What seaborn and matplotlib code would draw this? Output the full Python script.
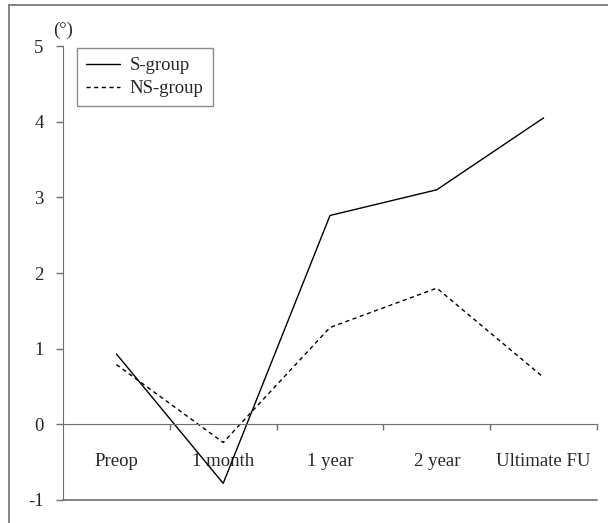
import pandas as pd
import matplotlib.pyplot as plt
import seaborn as sns
from matplotlib.lines import Line2D
from matplotlib.ticker import FixedLocator

# Zaman noktaları ve gruplara ait değerler (derece)
zaman = ["Preop", "1 month", "1 year", "2 year", "Ultimate FU"]
s_grup = [0.93, -0.78, 2.76, 3.10, 4.05]
ns_grup = [0.79, -0.24, 1.28, 1.80, 0.62]
y_ticks = [-1, 0, 1, 2, 3, 4, 5]

veri = pd.DataFrame({
    "Zaman": zaman * 2,
    "Deger": s_grup + ns_grup,
    "Grup": ["S-group"] * len(zaman) + ["NS-group"] * len(zaman),
})

sns.set_style("white")
plt.rcParams["font.family"] = ["Liberation Serif", "DejaVu Serif"]

gri = "#6e6e6e"
fs = 13.5
fig = plt.figure(figsize=(6.08, 5.23), dpi=100)
ax = fig.add_axes([63 / 608, 1 - 500 / 523, 534 / 608, 454 / 523])

sns.lineplot(data=veri, x="Zaman", y="Deger", style="Grup", color="black",
             dashes={"S-group": "", "NS-group": (3, 2.5)}, linewidth=1,
             sort=False, ax=ax)

ax.set_xlim(-0.5, len(zaman) - 0.5)
ax.set_ylim(-1, 5)
ax.set_xlabel("")
ax.set_ylabel("")

# Eksenler
for k in ["top", "right"]:
    ax.spines[k].set_visible(False)
ax.spines["bottom"].set_position(("data", 0))
ax.spines["bottom"].set_color(gri)
ax.spines["left"].set_color(gri)
ax.axhline(-1, color=gri, linewidth=1.2, clip_on=False)

ax.set_yticks(y_ticks)
ax.set_yticklabels([str(v) for v in y_ticks])
ax.tick_params(axis="y", direction="out", length=5, width=1, color=gri,
               pad=9, labelsize=fs, left=True)
ax.set_xticks(range(len(zaman)))
ax.set_xticklabels(zaman)
ax.xaxis.set_minor_locator(FixedLocator([i + 0.5 for i in range(len(zaman))]))
ax.tick_params(axis="x", which="major", length=0, pad=21, labelsize=fs)
ax.tick_params(axis="x", which="minor", direction="out", length=4.5,
               width=1, color=gri, bottom=True)

ax.text(-0.018, 1.015, "(°)", transform=ax.transAxes, fontsize=fs,
        ha="left", va="bottom")

leg = ax.legend(loc="upper left", bbox_to_anchor=(0.026, 0.996),
                borderaxespad=0, fancybox=False, edgecolor=gri,
                fontsize=fs, handlelength=1.8, handletextpad=0.5,
                labelspacing=0.3, borderpad=0.5, title=None)
leg.get_frame().set_linewidth(1)

# Dış çerçeve (sol ve üst)
fig.add_artist(Line2D([9 / 608, 9 / 608], [0, 1 - 5 / 523], color=gri,
                      linewidth=1.2))
fig.add_artist(Line2D([9 / 608, 1], [1 - 5 / 523, 1 - 5 / 523], color=gri,
                      linewidth=1.2))

fig.savefig("out.png", dpi=100)
